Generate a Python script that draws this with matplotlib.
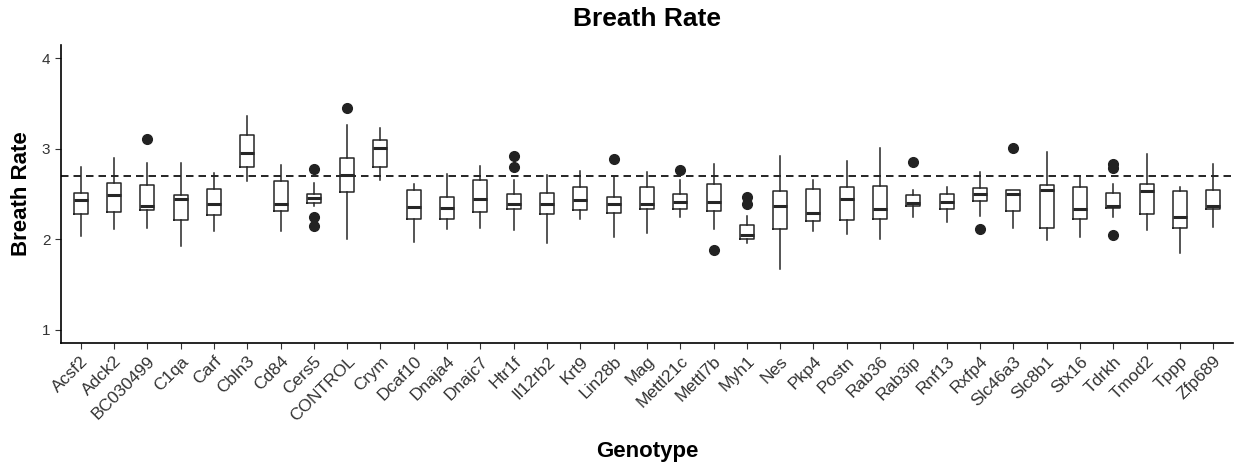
import matplotlib
matplotlib.use("Agg")
import matplotlib.pyplot as plt

plt.rcParams['font.family'] = ['Liberation Sans', 'DejaVu Sans']

genotypes = ["Acsf2", "Adck2", "BC030499", "C1qa", "Carf", "Cbln3", "Cd84", "Cers5",
             "CONTROL", "Crym", "Dcaf10", "Dnaja4", "Dnajc7", "Htr1f", "Il12rb2", "Krt9",
             "Lin28b", "Mag", "Mettl21c", "Mettl7b", "Myh1", "Nes", "Pkp4", "Postn",
             "Rab36", "Rab3ip", "Rnf13", "Rxfp4", "Slc46a3", "Slc8b1", "Stx16", "Tdrkh",
             "Tmod2", "Tppp", "Zfp689"]

# whisker low, Q1, median, Q3, whisker high
whisker_lo = [2.04, 2.11, 2.12, 1.93, 2.09, 2.65, 2.09, 2.37, 2.00, 2.66, 1.97, 2.11,
              2.13, 2.10, 1.96, 2.22, 2.03, 2.07, 2.25, 2.11, 1.96, 1.67, 2.09, 2.06,
              2.00, 2.25, 2.19, 2.26, 2.12, 1.99, 2.03, 2.25, 2.10, 1.85, 2.14]
q1 = [2.28, 2.30, 2.32, 2.21, 2.27, 2.80, 2.31, 2.40, 2.52, 2.80, 2.22, 2.23,
      2.30, 2.33, 2.28, 2.32, 2.29, 2.33, 2.33, 2.31, 2.00, 2.11, 2.20, 2.21,
      2.22, 2.37, 2.33, 2.42, 2.31, 2.13, 2.22, 2.35, 2.28, 2.13, 2.33]
median = [2.44, 2.49, 2.37, 2.45, 2.39, 2.95, 2.39, 2.46, 2.71, 3.01, 2.36, 2.35,
          2.45, 2.39, 2.39, 2.44, 2.39, 2.39, 2.41, 2.41, 2.05, 2.37, 2.29, 2.45,
          2.33, 2.40, 2.41, 2.50, 2.50, 2.54, 2.33, 2.37, 2.53, 2.25, 2.37]
q3 = [2.51, 2.62, 2.60, 2.49, 2.56, 3.15, 2.64, 2.50, 2.90, 3.10, 2.54, 2.47,
      2.66, 2.50, 2.51, 2.58, 2.47, 2.58, 2.50, 2.61, 2.16, 2.53, 2.56, 2.58,
      2.59, 2.49, 2.50, 2.57, 2.54, 2.60, 2.58, 2.51, 2.61, 2.53, 2.55]
whisker_hi = [2.80, 2.90, 2.84, 2.84, 2.73, 3.36, 2.82, 2.62, 3.26, 3.23, 2.61, 2.72,
              2.81, 2.66, 2.71, 2.76, 2.69, 2.74, 2.66, 2.83, 2.26, 2.92, 2.66, 2.87,
              3.01, 2.54, 2.58, 2.74, 2.54, 2.97, 2.70, 2.61, 2.94, 2.58, 2.83]
outliers = {
    "BC030499": [3.11],
    "Cers5": [2.78, 2.25, 2.15],
    "CONTROL": [3.45],
    "Htr1f": [2.92, 2.80],
    "Lin28b": [2.89],
    "Mettl21c": [2.77],
    "Mettl7b": [1.88],
    "Myh1": [2.47, 2.39],
    "Rab3ip": [2.85],
    "Rxfp4": [2.11],
    "Slc46a3": [3.01],
    "Tdrkh": [2.83, 2.79, 2.05],
}
reference_line = 2.7

stats = []
for i, g in enumerate(genotypes):
    stats.append(dict(label=g, whislo=whisker_lo[i], q1=q1[i], med=median[i],
                      q3=q3[i], whishi=whisker_hi[i], fliers=outliers.get(g, [])))

fig = plt.figure(figsize=(12.46, 4.68), dpi=100)
ax = fig.add_axes([0.0487, 0.2665, 0.941, 0.6375])

line_col = "#262626"
ax.bxp(stats, positions=range(len(genotypes)), widths=0.42, showcaps=False,
       boxprops=dict(color=line_col, linewidth=1.1),
       whiskerprops=dict(color=line_col, linewidth=1.1),
       medianprops=dict(color=line_col, linewidth=2.2),
       flierprops=dict(marker="o", markerfacecolor="#222222", markeredgecolor="#222222",
                       markersize=7))

ax.axhline(reference_line, color="black", linestyle=(0, (4.5, 3)), linewidth=1.2, zorder=0)

ax.set_xlim(-0.6, len(genotypes) - 0.4)
ax.set_ylim(0.85, 4.15)
ax.set_yticks([1, 2, 3, 4])
ax.set_xticks(range(len(genotypes)))
ax.set_xticklabels(genotypes, rotation=45, ha="right", rotation_mode="anchor", fontsize=12.5)
ax.tick_params(axis="y", labelsize=11)
ax.tick_params(length=4, color="#333333", labelcolor="#333333")

for s in ["top", "right"]:
    ax.spines[s].set_visible(False)
for s in ["left", "bottom"]:
    ax.spines[s].set_linewidth(1.2)

ax.text(0.5, 1.087, "Breath Rate", transform=ax.transAxes, ha="center", va="center",
        fontsize=19, fontweight="bold")
ax.set_xlabel("Genotype", fontsize=16, fontweight="bold", va="center")
ax.xaxis.set_label_coords(0.5, -0.362)
ax.set_ylabel("Breath Rate", fontsize=16, fontweight="bold", va="center")
ax.yaxis.set_label_coords(-0.033, 0.5)

fig.savefig("out.png", dpi=100)
